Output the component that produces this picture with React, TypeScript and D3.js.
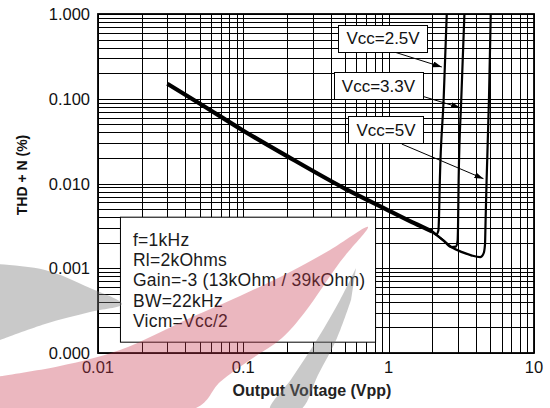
import { useEffect, useRef } from "react";
import * as d3 from "d3";

// axis ticks
const xTicks = [0.01, 0.1, 1, 10];
const xTickLabels = ["0.01", "0.1", "1", "10"];
const yTicks = [0.0001, 0.001, 0.01, 0.1, 1];
const yTickLabels = ["0.000", "0.001", "0.010", "0.100", "1.000"];

// low level part shared by all supplies (Vpp, THD+N %)
const sharedVolts = [0.03, 0.05, 0.1, 0.2, 0.5, 1, 1.5, 2.0];
const sharedThd = [0.15, 0.088, 0.042, 0.021, 0.0087, 0.0048, 0.0034, 0.0027];

// clipping tails per supply
const seriesNames = ["Vcc=2.5V", "Vcc=3.3V", "Vcc=5V"];
const tailVolts = [
  [2.0, 2.12, 2.2, 2.22, 2.25, 2.39, 2.51],
  [2.0, 2.4, 2.7, 2.9, 2.98, 3.0, 3.03, 3.16, 3.32],
  [2.0, 2.4, 2.7, 3.2, 3.7, 4.26, 4.5, 4.6, 4.65, 4.72, 4.9, 5.04],
];
const tailThd = [
  [0.0027, 0.0025, 0.0028, 0.004, 0.011, 0.1, 1.0],
  [0.0027, 0.0021, 0.00178, 0.0018, 0.0021, 0.003, 0.011, 0.1, 1.0],
  [0.0027, 0.0021, 0.00178, 0.00155, 0.00142, 0.00135, 0.0015, 0.0019, 0.004, 0.011, 0.1, 1.0],
];

// annotation boxes, in data units
const labelBoxAt = [[0.915, 0.515], [0.851, 0.142], [0.958, 0.0428]];
const arrowFrom = [[1.077, 0.359], [1.69, 0.1077], [1.231, 0.0292]];
const arrowTo = [[2.32, 0.237], [3.1, 0.0784], [4.49, 0.0114]];

// test conditions box
const conditions = ["f=1kHz", "Rl=2kOhms", "Gain=-3 (13kOhm / 39kOhm)", "BW=22kHz", "Vicm=Vcc/2"];
const conditionsBox = { v0: 0.01416, v1: 0.806, thdTop: 0.00406, thdBottom: 0.000136 };

// watermark swooshes (page pixels), drawn over the chart
const pinkSwoosh = [
  [-5, 377], [60, 366], [120, 350], [190, 318], [240, 296], [290, 272], [330, 250], [368, 227],
  [340, 262], [305, 312], [282, 338], [250, 360], [220, 382], [196, 408], [-5, 410],
];
const graySwooshLeft = [[-5, 264], [45, 270], [90, 288], [122, 304], [90, 312], [45, 324], [-5, 342]];
const graySwooshRight = [
  [356, 268], [340, 300], [318, 338], [292, 378], [270, 410],
  [300, 410], [318, 375], [337, 338], [351, 300],
];

const FONT = "'Liberation Sans', Arial, sans-serif";

export default function App() {
  const svgRef = useRef<SVGSVGElement | null>(null);

  useEffect(() => {
    if (!svgRef.current) return;
    const width = 550;
    const height = 408;
    const margin = { top: 14, right: 16, bottom: 55, left: 98 };

    const svg = d3.select(svgRef.current);
    svg.selectAll("*").remove();

    const x = d3.scaleLog().domain([0.01, 10]).range([margin.left, width - margin.right]);
    const y = d3.scaleLog().domain([0.0001, 1]).range([height - margin.bottom, margin.top]);

    svg.append("rect").attr("width", width).attr("height", height).attr("fill", "#fff");

    // grid
    const xGrid: number[] = [];
    [0.01, 0.1, 1].forEach((d) => d3.range(1, 10).forEach((k) => xGrid.push(d * k)));
    xGrid.push(10);
    const yGrid: number[] = [];
    [0.0001, 0.001, 0.01, 0.1].forEach((d) => d3.range(1, 10).forEach((k) => yGrid.push(d * k)));
    yGrid.push(1);

    const grid = svg.append("g").attr("stroke", "#000").attr("shape-rendering", "crispEdges");
    grid
      .selectAll("line.vx")
      .data(xGrid)
      .join("line")
      .attr("x1", (d) => Math.round(x(d)) + 0.5)
      .attr("x2", (d) => Math.round(x(d)) + 0.5)
      .attr("y1", y(0.0001))
      .attr("y2", y(1))
      .attr("stroke-width", 1);
    grid
      .selectAll("line.hy")
      .data(yGrid)
      .join("line")
      .attr("y1", (d) => Math.round(y(d)) + 0.5)
      .attr("y2", (d) => Math.round(y(d)) + 0.5)
      .attr("x1", x(0.01))
      .attr("x2", x(10))
      .attr("stroke-width", 1);

    // curves
    const line = d3
      .line<[number, number]>()
      .x((d) => x(d[0]))
      .y((d) => y(d[1]))
      .curve(d3.curveMonotoneX);

    const shared: [number, number][] = sharedVolts.map((v, i) => [v, sharedThd[i]]);
    tailVolts.forEach((vs, s) => {
      const pts: [number, number][] = vs.map((v, i) => [v, tailThd[s][i]]);
      svg
        .append("path")
        .datum(pts)
        .attr("fill", "none")
        .attr("stroke", "#000")
        .attr("stroke-width", 2.2)
        .attr("stroke-linejoin", "round")
        .attr("d", line);
    });
    svg
      .append("path")
      .datum(shared)
      .attr("fill", "none")
      .attr("stroke", "#000")
      .attr("stroke-width", 4.2)
      .attr("d", line);

    // conditions box
    const bx0 = x(conditionsBox.v0);
    const bx1 = x(conditionsBox.v1);
    const by0 = y(conditionsBox.thdTop);
    const by1 = y(conditionsBox.thdBottom);
    svg
      .append("rect")
      .attr("x", bx0 + 0.5)
      .attr("y", by0 + 0.5)
      .attr("width", bx1 - bx0)
      .attr("height", by1 - by0)
      .attr("fill", "#fff")
      .attr("stroke", "#000")
      .attr("stroke-width", 1);
    svg
      .append("g")
      .selectAll("text")
      .data(conditions)
      .join("text")
      .attr("x", bx0 + 13)
      .attr("y", (_, i) => by0 + 29 + i * 20.3)
      .attr("font-family", FONT)
      .attr("font-size", 17.5)
      .attr("letter-spacing", 0.25)
      .attr("fill", "#1a1a1a")
      .text((d) => d);

    // arrows + labels
    const defs = svg.append("defs");
    defs
      .append("marker")
      .attr("id", "arrowHead")
      .attr("viewBox", "0 0 9 6")
      .attr("refX", 9)
      .attr("refY", 3)
      .attr("markerWidth", 9)
      .attr("markerHeight", 6)
      .attr("markerUnits", "userSpaceOnUse")
      .attr("orient", "auto")
      .append("path")
      .attr("d", "M0,0 L9,3 L0,6 Z")
      .attr("fill", "#000");

    seriesNames.forEach((name, i) => {
      svg
        .append("line")
        .attr("x1", x(arrowFrom[i][0]))
        .attr("y1", y(arrowFrom[i][1]))
        .attr("x2", x(arrowTo[i][0]))
        .attr("y2", y(arrowTo[i][1]))
        .attr("stroke", "#000")
        .attr("stroke-width", 1)
        .attr("marker-end", "url(#arrowHead)");
      const cx = x(labelBoxAt[i][0]);
      const cy = y(labelBoxAt[i][1]);
      const g = svg.append("g");
      const rect = g.append("rect");
      const t = g
        .append("text")
        .attr("x", cx)
        .attr("y", cy + 6)
        .attr("text-anchor", "middle")
        .attr("font-family", FONT)
        .attr("font-size", 17)
        .attr("fill", "#111")
        .text(name);
      const w = (t.node() as SVGTextElement).getComputedTextLength() + 16;
      rect
        .attr("x", Math.round(cx - w / 2) + 0.5)
        .attr("y", Math.round(cy - 13.5) + 0.5)
        .attr("width", Math.round(w))
        .attr("height", 27)
        .attr("fill", "#fff")
        .attr("stroke", "#000")
        .attr("stroke-width", 1);
    });

    // frame
    svg
      .append("rect")
      .attr("x", x(0.01))
      .attr("y", y(1))
      .attr("width", x(10) - x(0.01))
      .attr("height", y(0.0001) - y(1))
      .attr("fill", "none")
      .attr("stroke", "#000")
      .attr("stroke-width", 1.8);

    // tick labels
    svg
      .append("g")
      .selectAll("text")
      .data(xTicks)
      .join("text")
      .attr("x", (d) => x(d))
      .attr("y", y(0.0001) + 20)
      .attr("text-anchor", "middle")
      .attr("font-family", FONT)
      .attr("font-size", 16.5)
      .attr("fill", "#111")
      .text((_, i) => xTickLabels[i]);
    svg
      .append("g")
      .selectAll("text")
      .data(yTicks)
      .join("text")
      .attr("x", x(0.01) - 8)
      .attr("y", (d) => y(d) + 6)
      .attr("text-anchor", "end")
      .attr("font-family", FONT)
      .attr("font-size", 16.5)
      .attr("fill", "#111")
      .text((_, i) => yTickLabels[i]);

    // axis titles
    svg
      .append("text")
      .attr("x", 312)
      .attr("y", 396)
      .attr("text-anchor", "middle")
      .attr("font-family", FONT)
      .attr("font-size", 16)
      .attr("font-weight", "bold")
      .attr("fill", "#222")
      .text("Output Voltage (Vpp)");
    svg
      .append("text")
      .attr("transform", "translate(27,175) rotate(-90)")
      .attr("text-anchor", "middle")
      .attr("font-family", FONT)
      .attr("font-size", 14)
      .attr("font-weight", "bold")
      .attr("fill", "#111")
      .text("THD + N (%)");

    // watermark
    const swoosh = (pts: number[][]) =>
      (d3.line().curve(d3.curveCatmullRom.alpha(0.5))(pts as [number, number][]) || "") + "Z";
    const wm = svg.append("g").attr("pointer-events", "none");
    wm.append("path").attr("d", swoosh(pinkSwoosh)).attr("fill", "#c8384e").attr("opacity", 0.36);
    wm.append("path").attr("d", swoosh(graySwooshLeft)).attr("fill", "#777").attr("opacity", 0.4);
    wm.append("path").attr("d", swoosh(graySwooshRight)).attr("fill", "#777").attr("opacity", 0.4);
  }, []);

  return (
    <svg
      ref={svgRef}
      width={550}
      height={408}
      style={{ position: "absolute", left: 0, top: 0, display: "block" }}
    ></svg>
  );
}
